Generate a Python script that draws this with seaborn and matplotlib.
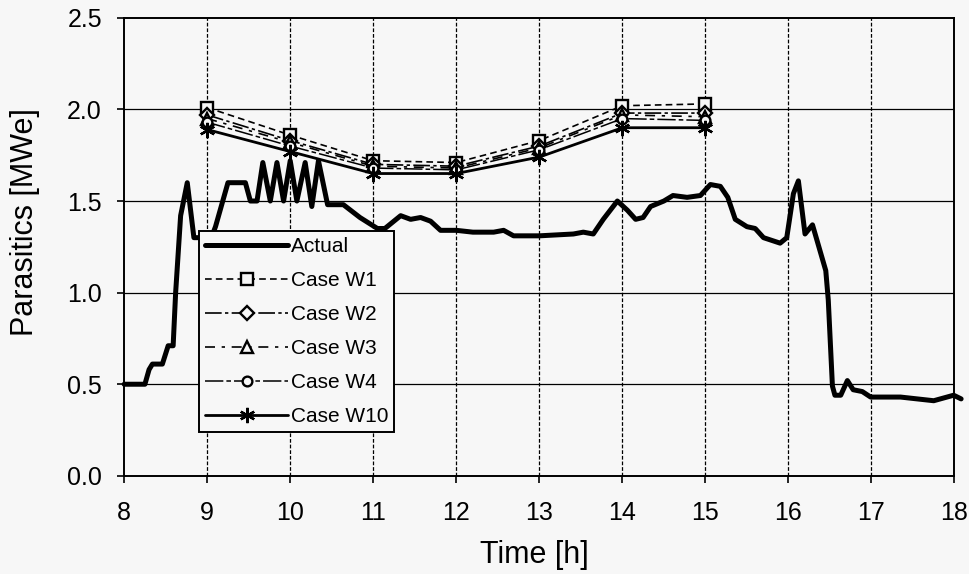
import matplotlib
matplotlib.use("Agg")
import matplotlib.pyplot as plt
import seaborn as sns

# --- Dados ---
actual_time = [8.0, 8.25, 8.3, 8.34, 8.46, 8.53, 8.59, 8.62, 8.68, 8.76, 8.84, 8.92,
               9.05, 9.1, 9.25, 9.46, 9.52, 9.6, 9.67, 9.76, 9.84, 9.92, 10.0, 10.08,
               10.18, 10.26, 10.34, 10.45, 10.64, 10.84, 11.05, 11.14, 11.33, 11.45,
               11.57, 11.69, 11.81, 12.0, 12.2, 12.45, 12.57, 12.69, 13.0, 13.41,
               13.53, 13.65, 13.77, 13.94, 14.06, 14.16, 14.25, 14.34, 14.5, 14.61,
               14.78, 14.94, 15.06, 15.18, 15.27, 15.36, 15.5, 15.6, 15.7, 15.9,
               15.98, 16.06, 16.12, 16.2, 16.29, 16.45, 16.48, 16.53, 16.56, 16.63,
               16.71, 16.78, 16.89, 16.99, 17.35, 17.75, 17.99, 18.08]
actual_mwe = [0.50, 0.50, 0.58, 0.61, 0.61, 0.71, 0.71, 1.00, 1.42, 1.60, 1.30, 1.30,
              1.30, 1.36, 1.60, 1.60, 1.50, 1.50, 1.71, 1.50, 1.71, 1.50, 1.72, 1.50,
              1.71, 1.47, 1.72, 1.48, 1.48, 1.41, 1.35, 1.35, 1.42, 1.40,
              1.41, 1.39, 1.34, 1.34, 1.33, 1.33, 1.34, 1.31, 1.31, 1.32,
              1.33, 1.32, 1.40, 1.50, 1.45, 1.40, 1.41, 1.47, 1.50, 1.53,
              1.52, 1.53, 1.59, 1.58, 1.52, 1.40, 1.36, 1.35, 1.30, 1.27,
              1.30, 1.54, 1.61, 1.32, 1.37, 1.12, 0.96, 0.49, 0.44, 0.44,
              0.52, 0.47, 0.46, 0.43, 0.43, 0.41, 0.44, 0.42]

case_time = [9, 10, 11, 12, 13, 14, 15]
case_w1 = [2.01, 1.86, 1.72, 1.71, 1.83, 2.02, 2.03]
case_w2 = [1.97, 1.83, 1.70, 1.69, 1.80, 1.98, 1.98]
case_w3 = [1.95, 1.82, 1.69, 1.68, 1.79, 1.97, 1.96]
case_w4 = [1.93, 1.80, 1.68, 1.67, 1.78, 1.95, 1.94]
case_w10 = [1.89, 1.77, 1.65, 1.65, 1.74, 1.90, 1.90]

x_ticks = list(range(8, 19))
y_ticks = [0.0, 0.5, 1.0, 1.5, 2.0, 2.5]

bg = "#f7f7f7"

sns.set_style("ticks")
plt.rcParams["font.family"] = ["Liberation Sans", "DejaVu Sans"]
plt.rcParams["text.color"] = "black"
plt.rcParams["axes.labelcolor"] = "black"
plt.rcParams["xtick.color"] = "black"
plt.rcParams["ytick.color"] = "black"

fig = plt.figure(figsize=(9.7, 5.74), dpi=100, facecolor=bg)
ax = fig.add_axes([0.128, 0.171, 0.856, 0.798])
ax.set_facecolor(bg)

# grade: verticais tracejadas, horizontais contínuas
for xv in x_ticks[1:-1]:
    ax.axvline(xv, color="black", lw=0.9, ls=(0, (3, 1.5)), zorder=1)
for yv in y_ticks[1:-1]:
    ax.axhline(yv, color="black", lw=0.9, zorder=1)

sns.lineplot(x=actual_time, y=actual_mwe, ax=ax, color="black", lw=3.6,
             label="Actual", errorbar=None, clip_on=False, zorder=3)

cases = [
    ("Case W1", case_w1, "s", (0, (4, 2.5)), 1.2, 9),
    ("Case W2", case_w2, "D", (0, (10, 2, 2, 2)), 1.2, 7),
    ("Case W3", case_w3, "^", (0, (6, 4, 2, 4)), 1.2, 8),
    ("Case W4", case_w4, "o", (0, (12, 2, 3, 2)), 1.1, 7),
    ("Case W10", case_w10, (6, 2, 0), "-", 2.0, 11),
]
for name, vals, mk, ls, lw, ms in cases:
    sns.lineplot(x=case_time, y=vals, ax=ax, color="black", lw=lw, linestyle=ls,
                 marker=mk, markersize=ms, markerfacecolor=bg,
                 markeredgecolor="black", markeredgewidth=1.7,
                 label=name, errorbar=None, zorder=4)

ax.set_xlim(8, 18)
ax.set_ylim(0, 2.5)
ax.set_xticks(x_ticks)
ax.set_yticks(y_ticks)
ax.set_yticklabels([f"{v:.1f}" for v in y_ticks])
ax.tick_params(axis="both", labelsize=18, length=5, width=1.2, color="black",
               labelcolor="black", direction="out")
ax.tick_params(axis="x", pad=13)
ax.tick_params(axis="y", pad=11)
for sp in ax.spines.values():
    sp.set_visible(True)
    sp.set_color("black")
    sp.set_linewidth(1.4)

ax.set_xlabel("Time [h]", fontsize=22, color="black")
ax.set_ylabel("Parasitics [MWe]", fontsize=22, color="black")
ax.xaxis.set_label_coords(0.494, -0.172, transform=ax.transAxes)
ax.yaxis.set_label_coords(-0.119, 0.555, transform=ax.transAxes)
ax.xaxis.label.set_va("center")
ax.yaxis.label.set_va("center")

leg = ax.legend(loc="upper left", bbox_to_anchor=(0.09, 0.535), fontsize=15,
                frameon=True, fancybox=False, framealpha=1, facecolor=bg,
                edgecolor="black", handlelength=4.0, handletextpad=0.1,
                labelspacing=0.72, borderpad=0.3, borderaxespad=0,
                labelcolor="black")
leg.get_frame().set_linewidth(1.4)
leg.set_zorder(5)

fig.savefig("out.png", dpi=100, facecolor=bg)
